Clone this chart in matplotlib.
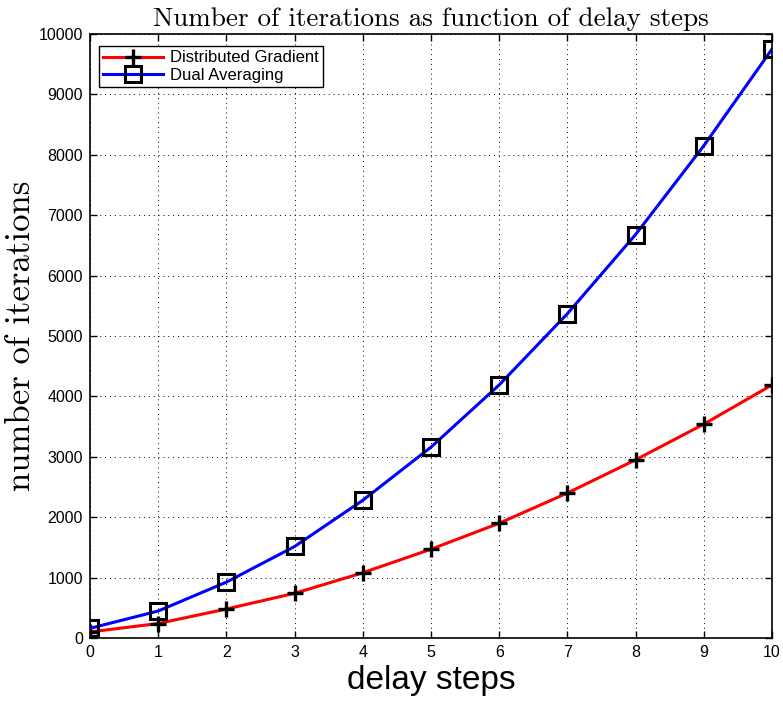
import matplotlib
matplotlib.use("Agg")
import matplotlib.pyplot as plt
import numpy as np

delay_steps = [0, 1, 2, 3, 4, 5, 6, 7, 8, 9, 10]
distributed_gradient = [100, 240, 480, 740, 1080, 1470, 1900, 2400, 2950, 3540, 4190]
dual_averaging = [160, 447, 925, 1515, 2280, 3160, 4190, 5370, 6680, 8150, 9750]
x_ticks = list(range(0, 11))
y_ticks = list(range(0, 10001, 1000))

plt.rcParams['font.family'] = ['Liberation Sans', 'DejaVu Sans']
plt.rcParams['axes.formatter.use_mathtext'] = False

fig = plt.figure(figsize=(7.83, 7.05), dpi=100)
ax = fig.add_axes([90/783, 67/705, (772-90)/783, (638-34)/705])

ax.plot(delay_steps, distributed_gradient, color='red', lw=2.2, marker='+',
        ms=12, mec='black', mew=2.4, label='Distributed Gradient')
ax.plot(delay_steps, dual_averaging, color='blue', lw=2.2, marker='s',
        ms=11, mec='black', mfc='none', mew=2.2, label='Dual Averaging')

ax.set_xlim(0, 10)
ax.set_ylim(0, 10000)
ax.set_xticks(x_ticks)
ax.set_yticks(y_ticks)
ax.tick_params(direction='in', top=True, right=True, labelsize=11.5, length=5, width=1, pad=5)
ax.grid(True, color='black', linestyle=(0, (1, 4)), linewidth=0.7)
for s in ax.spines.values():
    s.set_linewidth(1.2)

ax.set_title('Number of iterations as function of delay steps', family='cmr10',
             fontsize=19.5, pad=6)
ax.set_ylabel('number of iterations', family='cmr10', fontsize=25, labelpad=1)
ax.set_xlabel('delay steps', fontsize=24, labelpad=4)

leg = ax.legend(loc='upper left', fancybox=False, edgecolor='black', framealpha=1,
                fontsize=12, handlelength=3.6, borderpad=0.25, labelspacing=0.15,
                handletextpad=0.4, bbox_to_anchor=(0.0, 0.995), borderaxespad=0.55)
leg.get_frame().set_linewidth(1)

fig.savefig('out.png', dpi=100)
